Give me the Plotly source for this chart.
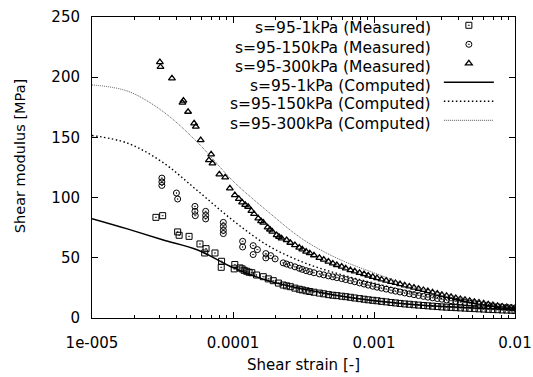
import plotly.graph_objects as go

# ---------------- data ----------------
labels = [
    "s=95-1kPa (Measured)",
    "s=95-150kPa (Measured)",
    "s=95-300kPa (Measured)",
    "s=95-1kPa (Computed)",
    "s=95-150kPa (Computed)",
    "s=95-300kPa (Computed)",
]

dense_x = [2.4e-4, 2.55e-4, 2.75e-4, 2.95e-4, 3.1e-4, 3.3e-4, 3.5e-4, 3.75e-4, 4.1e-4, 4.4e-4,
           4.75e-4, 5.1e-4, 5.45e-4, 5.9e-4, 6.3e-4, 6.8e-4, 7.3e-4, 7.9e-4, 8.5e-4, 9.1e-4,
           9.8e-4, 1.05e-3, 1.13e-3, 1.22e-3, 1.32e-3, 1.42e-3, 1.53e-3, 1.65e-3, 1.78e-3, 1.92e-3,
           2.07e-3, 2.24e-3, 2.41e-3, 2.6e-3, 2.81e-3, 3.03e-3, 3.27e-3, 3.52e-3, 3.8e-3, 4.1e-3,
           4.42e-3, 4.77e-3, 5.15e-3, 5.55e-3, 5.99e-3, 6.46e-3, 6.97e-3, 7.52e-3, 8.1e-3, 8.75e-3,
           9.4e-3, 1.0e-2]

# s=95-1kPa measured
sq_x = [2.84e-5, 3.17e-5, 4.05e-5, 4.15e-5, 4.88e-5, 5.83e-5, 6.3e-5, 6.44e-5, 7.45e-5, 8.3e-5,
        8.25e-5, 1.03e-4, 1.02e-4, 1.12e-4, 1.16e-4, 1.2e-4, 1.25e-4, 1.3e-4, 1.36e-4, 1.47e-4,
        1.64e-4, 1.78e-4, 1.93e-4, 2.1e-4, 2.27e-4] + dense_x
sq_y = [83.6, 85.0, 71.5, 68.7, 67.8, 61.5, 54.0, 57.6, 54.0, 47.1,
        42.1, 44.4, 40.8, 41.6, 40.8, 39.6, 38.8, 38.0, 37.6, 35.7,
        34.3, 32.5, 31.0, 29.0, 27.4,
        26.7, 26.0, 24.8, 23.9, 23.3, 22.6, 22.0, 21.4, 20.7, 20.1,
        19.4, 18.9, 18.6, 18.1, 17.7, 17.2, 16.6, 16.1, 15.6, 15.1,
        14.7, 14.3, 13.8, 13.4, 12.9, 12.5, 12.1, 11.7, 11.4, 11.0,
        10.7, 10.4, 10.1, 9.8, 9.5, 9.2, 9.0, 8.8, 8.6, 8.4,
        8.2, 8.0, 7.8, 7.6, 7.4, 7.2, 7.0, 6.9, 6.7, 6.6,
        6.4, 6.3]

# s=95-150kPa measured
ci_x = [3.13e-5, 3.13e-5, 3.13e-5, 3.97e-5, 4.05e-5, 5.37e-5, 5.37e-5, 5.4e-5, 6.4e-5, 6.4e-5,
        6.4e-5, 8.54e-5, 8.54e-5, 8.54e-5, 8.54e-5, 1.17e-4, 1.17e-4, 1.39e-4, 1.49e-4, 1.39e-4,
        1.71e-4, 1.71e-4, 1.85e-4, 1.99e-4, 2.27e-4] + dense_x
ci_y = [116.2, 113.0, 110.1, 103.8, 98.8, 92.7, 88.6, 85.0, 88.6, 85.2,
        82.3, 79.4, 76.1, 72.8, 70.1, 63.7, 59.0, 60.1, 56.8, 52.7,
        53.5, 49.9, 51.8, 49.1, 45.8,
        44.8, 43.8, 42.5, 41.3, 40.4, 39.3, 38.5, 37.6, 36.6, 35.8,
        35.0, 34.2, 33.5, 32.7, 31.9, 31.0, 30.1, 29.1, 28.2, 27.3,
        26.4, 25.6, 24.8, 24.0, 23.1, 22.3, 21.6, 20.8, 20.1, 19.4,
        18.7, 18.0, 17.3, 16.8, 16.2, 15.6, 15.0, 14.4, 13.9, 13.3,
        12.8, 12.3, 11.8, 11.3, 10.8, 10.4, 10.0, 9.6, 9.2, 8.9,
        8.6, 8.3]

# s=95-300kPa measured
tr_x = [3.03e-5, 3.06e-5, 3.69e-5, 4.38e-5, 4.45e-5, 4.8e-5, 5.3e-5, 5.45e-5, 5.9e-5, 6.75e-5,
        7.0e-5, 7.15e-5, 8.0e-5, 8.8e-5, 9.5e-5, 1.03e-4, 1.1e-4, 1.16e-4, 1.22e-4, 1.28e-4,
        1.35e-4, 1.41e-4, 1.51e-4, 1.58e-4, 1.64e-4, 1.76e-4, 1.83e-4, 1.9e-4, 2.04e-4, 2.12e-4,
        2.21e-4] + dense_x
tr_y = [212.6, 208.5, 199.0, 178.8, 180.5, 171.3, 161.7, 158.9, 147.8, 131.2,
        135.9, 128.4, 119.3, 116.8, 107.7, 102.0, 99.0, 96.0, 94.0, 92.4,
        89.0, 86.4, 82.8, 80.5, 79.2, 75.3, 73.5, 71.7, 68.9, 67.5,
        66.2,
        64.8, 62.5, 60.6, 58.5, 57.0, 55.1, 53.8, 52.1, 50.0, 48.5,
        46.8, 45.3, 44.0, 42.7, 41.2, 39.8, 38.7, 37.5, 36.4, 35.3,
        34.2, 33.2, 32.0, 31.0, 30.0, 29.1, 28.1, 27.1, 26.2, 25.3,
        24.3, 23.3, 22.3, 21.3, 20.3, 19.3, 18.4, 17.5, 16.6, 15.8,
        15.0, 14.2, 13.5, 12.8, 12.1, 11.4, 10.8, 10.1, 9.5, 9.0,
        8.5, 8.0]

# computed curves
calc_x = [1e-5, 1.78e-5, 3.16e-5, 5.62e-5, 1e-4, 1.78e-4, 3.16e-4, 5.62e-4, 1e-3,
          1.78e-3, 3.16e-3, 5.62e-3, 1e-2]
calc1_y = [82.5, 74.0, 65.0, 56.5, 41.8, 31.0, 24.0, 18.5, 14.3, 11.5, 9.5, 8.0, 7.0]
calc150_y = [151.6, 145.3, 129.4, 105.6, 81.0, 60.0, 46.2, 36.6, 29.0, 21.8, 16.0, 12.0, 9.0]
calc300_y = [193.6, 188.5, 171.8, 145.7, 113.8, 88.1, 65.0, 49.0, 37.5, 27.0, 20.0, 14.0, 10.0]

x_tickvals = [1e-5, 1e-4, 1e-3, 1e-2]
x_ticktext = ["1e-005", "0.0001", "0.001", "0.01"]
y_tickvals = [0, 50, 100, 150, 200, 250]
x_title = "Shear strain [-]"
y_title = "Shear modulus [MPa]"

# ---------------- figure ----------------
FONT = "DejaVu Sans"
fig = go.Figure()

mk_line = dict(color="black", width=1)
fig.add_trace(go.Scatter(x=sq_x, y=sq_y, mode="markers", name=" ",
                         marker=dict(symbol="square-open-dot", size=6, color="black", line=mk_line)))
fig.add_trace(go.Scatter(x=ci_x, y=ci_y, mode="markers", name=" ",
                         marker=dict(symbol="circle-open-dot", size=6, color="black", line=mk_line)))
fig.add_trace(go.Scatter(x=tr_x, y=tr_y, mode="markers", name=" ",
                         marker=dict(symbol="triangle-up-open", size=6, color="black",
                                     line=dict(color="black", width=1.3))))
fig.add_trace(go.Scatter(x=calc_x, y=calc1_y, mode="lines", name=" ", line_shape="spline",
                         line=dict(color="black", width=1.5)))
fig.add_trace(go.Scatter(x=calc_x, y=calc150_y, mode="lines", name=" ", line_shape="spline",
                         line=dict(color="black", width=1.4, dash="1.5px,2.5px")))
fig.add_trace(go.Scatter(x=calc_x, y=calc300_y, mode="lines", name=" ", line_shape="spline",
                         line=dict(color="#555555", width=1, dash="1px,1px")))

minor_x = [m * 10.0 ** e for e in (-5, -4, -3) for m in range(2, 10)]

fig.update_xaxes(type="log", range=[-5, -2], tickvals=x_tickvals, ticktext=x_ticktext,
                 automargin=False,
                 ticks="inside", ticklen=6, tickwidth=1, tickcolor="black",
                 showline=True, linecolor="black", linewidth=1, mirror="ticks",
                 showgrid=False, zeroline=False,
                 minor=dict(tickvals=minor_x, ticks="inside", ticklen=3, tickcolor="black", showgrid=False),
                 tickfont=dict(family=FONT, size=15, color="black"), ticklabelstandoff=11,
                 title=dict(text=x_title, font=dict(family=FONT, size=15, color="black"),
                            standoff=8))
fig.update_yaxes(range=[0, 250], tickvals=y_tickvals, automargin=False,
                 ticks="inside", ticklen=6, tickwidth=1, tickcolor="black",
                 showline=True, linecolor="black", linewidth=1, mirror="ticks",
                 showgrid=False, zeroline=False,
                 tickfont=dict(family=FONT, size=15, color="black"), ticklabelstandoff=8)

# y axis title (gnuplot places it slightly above the plot centre)
fig.add_annotation(xref="paper", yref="paper", x=-0.170, y=0.538, xanchor="center", yanchor="middle",
                   showarrow=False, textangle=-90, text=y_title,
                   font=dict(family=FONT, size=14.5, color="black"))

# legend: symbols by plotly legend, right-aligned texts as annotations (gnuplot style)
row0_px, drow_px = 28.5, 19.0
for i, lab in enumerate(labels):
    py = row0_px + i * drow_px
    fig.add_annotation(xref="paper", yref="paper", x=0.806, y=(318 - py) / 301,
                       xanchor="right", yanchor="middle", showarrow=False, text=lab,
                       font=dict(family=FONT, size=15.5, color="black"))

fig.update_layout(
    width=533, height=377,
    margin=dict(l=92, r=18, t=17, b=59, autoexpand=False),
    paper_bgcolor="white", plot_bgcolor="white",
    showlegend=True,
    legend=dict(x=0.820, y=1.0206, xanchor="left", yanchor="top", bgcolor="rgba(0,0,0,0)",
                font=dict(family=FONT, size=10), itemwidth=50, tracegroupgap=0,
                traceorder="normal"),
)

fig.write_html("out.html", include_plotlyjs=True, full_html=True,
               config={"displayModeBar": False})
